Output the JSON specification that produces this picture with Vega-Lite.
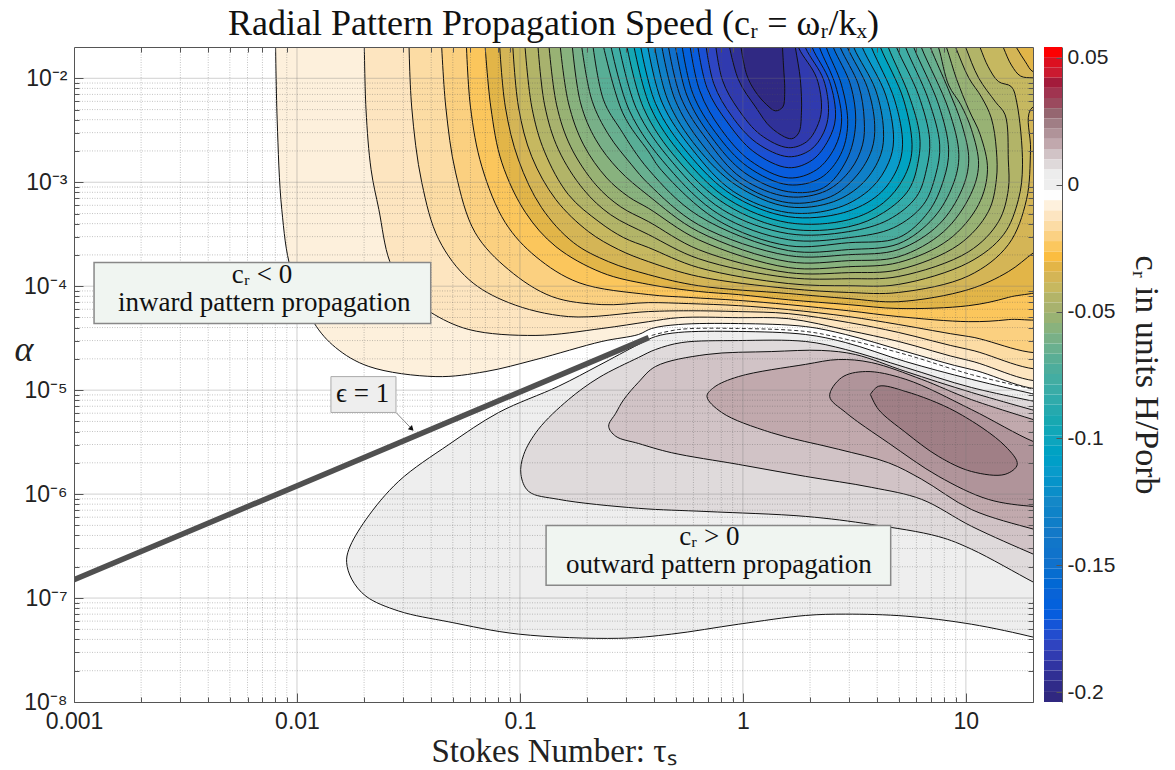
{"$schema":"https://vega.github.io/schema/vega-lite/v6.json","background":"white","padding":{"left":14,"top":5,"right":12,"bottom":0},"spacing":10,
"config":{"view":{"stroke":null}},
"datasets":{"contours":[
{"c":-0.0084,"t":0.008,"a":0.0292},{"c":-0.0084,"t":0.00815,"a":0.00398},{"c":-0.0084,"t":0.00855,"a":5.45e-4},{"c":-0.0084,"t":0.0094,"a":1.44e-4},{"c":-0.0084,"t":0.0119,"a":4.47e-5},{"c":-0.0084,"t":0.0149,"a":2.57e-5},{"c":-0.0084,"t":0.021,"a":1.69e-5},{"c":-0.0084,"t":0.042,"a":1.35e-5},{"c":-0.0084,"t":0.0703,"a":1.51e-5},{"c":-0.0084,"t":0.118,"a":1.97e-5},{"c":-0.0084,"t":0.233,"a":2.94e-5},{"c":-0.0084,"t":0.34,"a":3.43e-5},{"c":-0.0084,"t":0.39,"a":3.92e-5},{"c":-0.0084,"t":0.515,"a":4.28e-5},{"c":-0.0084,"t":0.955,"a":4.37e-5},{"c":-0.0084,"t":1.91,"a":4.09e-5},{"c":-0.0084,"t":2.89,"a":3.43e-5},{"c":-0.0084,"t":5.38,"a":2.35e-5},{"c":-0.0084,"t":10.6,"a":1.58e-5},{"c":-0.0084,"t":26,"a":1.16e-5},{"c":-0.0084,"t":26,"a":0.0292},
{"c":-0.0123,"t":0.02,"a":0.0292},{"c":-0.0123,"t":0.0204,"a":0.005},{"c":-0.0123,"t":0.0215,"a":0.00132},{"c":-0.0123,"t":0.0233,"a":5.45e-4},{"c":-0.0123,"t":0.0261,"a":1.72e-4},{"c":-0.0123,"t":0.0317,"a":8.3e-5},{"c":-0.0123,"t":0.0398,"a":5.6e-5},{"c":-0.0123,"t":0.059,"a":3.83e-5},{"c":-0.0123,"t":0.118,"a":3.36e-5},{"c":-0.0123,"t":0.233,"a":3.92e-5},{"c":-0.0123,"t":0.378,"a":4.56e-5},{"c":-0.0123,"t":0.515,"a":4.98e-5},{"c":-0.0123,"t":0.955,"a":4.98e-5},{"c":-0.0123,"t":1.6,"a":4.87e-5},{"c":-0.0123,"t":2.98,"a":3.75e-5},{"c":-0.0123,"t":4.99,"a":2.94e-5},{"c":-0.0123,"t":10.3,"a":1.93e-5},{"c":-0.0123,"t":26,"a":1.38e-5},{"c":-0.0123,"t":26,"a":0.0292},
{"c":-0.0164,"t":0.0317,"a":0.0292},{"c":-0.0164,"t":0.0327,"a":0.0053},{"c":-0.0164,"t":0.0363,"a":9.9e-4},{"c":-0.0164,"t":0.0433,"a":2.8e-4},{"c":-0.0164,"t":0.059,"a":1.16e-4},{"c":-0.0164,"t":0.089,"a":6.95e-5},{"c":-0.0164,"t":0.165,"a":5.1e-5},{"c":-0.0164,"t":0.378,"a":5.7e-5},{"c":-0.0164,"t":0.571,"a":5.8e-5},{"c":-0.0164,"t":0.955,"a":5.7e-5},{"c":-0.0164,"t":1.6,"a":5.45e-5},{"c":-0.0164,"t":2.98,"a":4.47e-5},{"c":-0.0164,"t":4.99,"a":3.59e-5},{"c":-0.0164,"t":10.3,"a":2.46e-5},{"c":-0.0164,"t":26,"a":1.8e-5},{"c":-0.0164,"t":26,"a":0.0292},
{"c":-0.0205,"t":0.0442,"a":0.0292},{"c":-0.0205,"t":0.0465,"a":0.0053},{"c":-0.0205,"t":0.0515,"a":0.00123},{"c":-0.0205,"t":0.063,"a":3.27e-4},{"c":-0.0205,"t":0.089,"a":1.44e-4},{"c":-0.0205,"t":0.139,"a":7.95e-5},{"c":-0.0205,"t":0.233,"a":6.65e-5},{"c":-0.0205,"t":0.378,"a":6.95e-5},{"c":-0.0205,"t":0.571,"a":6.8e-5},{"c":-0.0205,"t":0.955,"a":6.5e-5},{"c":-0.0205,"t":1.6,"a":5.95e-5},{"c":-0.0205,"t":2.98,"a":5.1e-5},{"c":-0.0205,"t":4.99,"a":4.28e-5},{"c":-0.0205,"t":10.3,"a":3.28e-5},{"c":-0.0205,"t":26,"a":2.63e-5},{"c":-0.0205,"t":26,"a":0.0292},
{"c":-0.0245,"t":0.0572,"a":0.0292},{"c":-0.0245,"t":0.06,"a":0.0053},{"c":-0.0245,"t":0.0675,"a":0.00141},{"c":-0.0245,"t":0.086,"a":4.08e-4},{"c":-0.0245,"t":0.118,"a":1.92e-4},{"c":-0.0245,"t":0.184,"a":1.08e-4},{"c":-0.0245,"t":0.378,"a":8.3e-5},{"c":-0.0245,"t":0.571,"a":7.8e-5},{"c":-0.0245,"t":0.955,"a":7.3e-5},{"c":-0.0245,"t":1.6,"a":6.65e-5},{"c":-0.0245,"t":2.98,"a":5.8e-5},{"c":-0.0245,"t":4.99,"a":5.1e-5},{"c":-0.0245,"t":10.3,"a":4.56e-5},{"c":-0.0245,"t":15.5,"a":4.77e-5},{"c":-0.0245,"t":26,"a":5.7e-5},{"c":-0.0245,"t":26,"a":0.0292},
{"c":-0.0325,"t":0.069,"a":0.0292},{"c":-0.0325,"t":0.074,"a":0.0053},{"c":-0.0325,"t":0.083,"a":0.00154},{"c":-0.0325,"t":0.106,"a":5.1e-4},{"c":-0.0325,"t":0.145,"a":2.4e-4},{"c":-0.0325,"t":0.233,"a":1.35e-4},{"c":-0.0325,"t":0.378,"a":1.04e-4},{"c":-0.0325,"t":0.632,"a":8.9e-5},{"c":-0.0325,"t":0.955,"a":8.3e-5},{"c":-0.0325,"t":1.6,"a":7.4e-5},{"c":-0.0325,"t":2.98,"a":6.65e-5},{"c":-0.0325,"t":4.99,"a":6.1e-5},{"c":-0.0325,"t":10.3,"a":6.5e-5},{"c":-0.0325,"t":15.5,"a":7.8e-5},{"c":-0.0325,"t":26,"a":1.16e-4},{"c":-0.0325,"t":26,"a":0.0292},
{"c":-0.0365,"t":0.0803,"a":0.0292},{"c":-0.0365,"t":0.086,"a":0.0053},{"c":-0.0365,"t":0.0985,"a":0.00164},{"c":-0.0365,"t":0.125,"a":5.7e-4},{"c":-0.0365,"t":0.174,"a":2.62e-4},{"c":-0.0365,"t":0.25,"a":1.72e-4},{"c":-0.0365,"t":0.378,"a":1.29e-4},{"c":-0.0365,"t":0.632,"a":1.01e-4},{"c":-0.0365,"t":1.6,"a":8.5e-5},{"c":-0.0365,"t":2.98,"a":7.6e-5},{"c":-0.0365,"t":4.99,"a":7.1e-5},{"c":-0.0365,"t":10.3,"a":9.3e-5},{"c":-0.0365,"t":15.5,"a":1.38e-4},{"c":-0.0365,"t":20.1,"a":2.1e-4},{"c":-0.0365,"t":26,"a":3.13e-4},{"c":-0.0365,"t":26,"a":0.0115},{"c":-0.0365,"t":20.1,"a":0.0115},{"c":-0.0365,"t":18.5,"a":0.0144},{"c":-0.0365,"t":16.9,"a":0.0196},{"c":-0.0365,"t":15.2,"a":0.0292},
{"c":-0.0406,"t":0.092,"a":0.0292},{"c":-0.0406,"t":0.0985,"a":0.0053},{"c":-0.0406,"t":0.113,"a":0.00176},{"c":-0.0406,"t":0.145,"a":6.8e-4},{"c":-0.0406,"t":0.203,"a":3.35e-4},{"c":-0.0406,"t":0.277,"a":2.25e-4},{"c":-0.0406,"t":0.378,"a":1.72e-4},{"c":-0.0406,"t":0.632,"a":1.24e-4},{"c":-0.0406,"t":1.6,"a":9.5e-5},{"c":-0.0406,"t":2.98,"a":8.7e-5},{"c":-0.0406,"t":4.99,"a":8.7e-5},{"c":-0.0406,"t":10.3,"a":1.26e-4},{"c":-0.0406,"t":15.5,"a":2.51e-4},{"c":-0.0406,"t":18.7,"a":6.8e-4},{"c":-0.0406,"t":19.5,"a":0.00205},{"c":-0.0406,"t":19.5,"a":0.005},{"c":-0.0406,"t":26,"a":0.0069},{"c":-0.0406,"t":26,"a":0.0101},{"c":-0.0406,"t":20.1,"a":0.0101},{"c":-0.0406,"t":17.6,"a":0.0105},{"c":-0.0406,"t":16,"a":0.0134},{"c":-0.0406,"t":14.75,"a":0.0196},{"c":-0.0406,"t":13.7,"a":0.0292},
{"c":-0.0446,"t":0.104,"a":0.0292},{"c":-0.0446,"t":0.113,"a":0.0053},{"c":-0.0446,"t":0.129,"a":0.00196},{"c":-0.0446,"t":0.165,"a":7.6e-4},{"c":-0.0446,"t":0.226,"a":4.17e-4},{"c":-0.0446,"t":0.292,"a":2.93e-4},{"c":-0.0446,"t":0.378,"a":2.35e-4},{"c":-0.0446,"t":0.632,"a":1.51e-4},{"c":-0.0446,"t":1.6,"a":1.06e-4},{"c":-0.0446,"t":2.98,"a":1.01e-4},{"c":-0.0446,"t":4.99,"a":1.04e-4},{"c":-0.0446,"t":10.3,"a":1.69e-4},{"c":-0.0446,"t":14.75,"a":3.13e-4},{"c":-0.0446,"t":17.2,"a":6.8e-4},{"c":-0.0446,"t":17.95,"a":0.00147},{"c":-0.0446,"t":16.9,"a":0.0059},{"c":-0.0446,"t":16,"a":0.0083},{"c":-0.0446,"t":14,"a":0.0093},{"c":-0.0446,"t":12.6,"a":0.0129},{"c":-0.0446,"t":11.6,"a":0.0196},{"c":-0.0446,"t":10.8,"a":0.0292},
{"c":-0.0487,"t":0.119,"a":0.0292},{"c":-0.0487,"t":0.129,"a":0.00555},{"c":-0.0487,"t":0.149,"a":0.00205},{"c":-0.0487,"t":0.193,"a":8.5e-4},{"c":-0.0487,"t":0.255,"a":4.87e-4},{"c":-0.0487,"t":0.378,"a":3.13e-4},{"c":-0.0487,"t":0.632,"a":1.84e-4},{"c":-0.0487,"t":1.6,"a":1.21e-4},{"c":-0.0487,"t":2.98,"a":1.18e-4},{"c":-0.0487,"t":4.99,"a":1.24e-4},{"c":-0.0487,"t":10.3,"a":2.15e-4},{"c":-0.0487,"t":14,"a":4.17e-4},{"c":-0.0487,"t":15.5,"a":8.5e-4},{"c":-0.0487,"t":15.5,"a":0.00164},{"c":-0.0487,"t":15,"a":0.00445},{"c":-0.0487,"t":13.6,"a":0.0059},{"c":-0.0487,"t":11.4,"a":0.0101},{"c":-0.0487,"t":10,"a":0.0196},{"c":-0.0487,"t":9.3,"a":0.0292},
{"c":-0.0529,"t":0.133,"a":0.0292},{"c":-0.0529,"t":0.146,"a":0.00555},{"c":-0.0529,"t":0.169,"a":0.00219},{"c":-0.0529,"t":0.219,"a":9.45e-4},{"c":-0.0529,"t":0.283,"a":5.8e-4},{"c":-0.0529,"t":0.378,"a":4.17e-4},{"c":-0.0529,"t":0.632,"a":2.25e-4},{"c":-0.0529,"t":1.6,"a":1.35e-4},{"c":-0.0529,"t":2.98,"a":1.35e-4},{"c":-0.0529,"t":4.99,"a":1.44e-4},{"c":-0.0529,"t":9.3,"a":2.51e-4},{"c":-0.0529,"t":12.6,"a":5.2e-4},{"c":-0.0529,"t":13.7,"a":0.00106},{"c":-0.0529,"t":13.7,"a":0.00205},{"c":-0.0529,"t":13,"a":0.00415},{"c":-0.0529,"t":11.75,"a":0.0066},{"c":-0.0529,"t":10.3,"a":0.0101},{"c":-0.0529,"t":9.02,"a":0.0196},{"c":-0.0529,"t":8.37,"a":0.0292},
{"c":-0.0568,"t":0.149,"a":0.0292},{"c":-0.0568,"t":0.165,"a":0.0058},{"c":-0.0568,"t":0.193,"a":0.00229},{"c":-0.0568,"t":0.245,"a":0.0011},{"c":-0.0568,"t":0.307,"a":7.25e-4},{"c":-0.0568,"t":0.378,"a":5.6e-4},{"c":-0.0568,"t":0.632,"a":2.8e-4},{"c":-0.0568,"t":1.6,"a":1.51e-4},{"c":-0.0568,"t":2.98,"a":1.54e-4},{"c":-0.0568,"t":4.99,"a":1.69e-4},{"c":-0.0568,"t":8.37,"a":2.8e-4},{"c":-0.0568,"t":11.4,"a":6.1e-4},{"c":-0.0568,"t":12.5,"a":0.00132},{"c":-0.0568,"t":11.6,"a":0.00286},{"c":-0.0568,"t":10.3,"a":0.005},{"c":-0.0568,"t":9.1,"a":0.0097},{"c":-0.0568,"t":8.2,"a":0.0196},{"c":-0.0568,"t":7.63,"a":0.0292},
{"c":-0.0609,"t":0.169,"a":0.0292},{"c":-0.0609,"t":0.187,"a":0.0058},{"c":-0.0609,"t":0.219,"a":0.00256},{"c":-0.0609,"t":0.277,"a":0.00132},{"c":-0.0609,"t":0.378,"a":7.4e-4},{"c":-0.0609,"t":0.632,"a":3.35e-4},{"c":-0.0609,"t":1.6,"a":1.72e-4},{"c":-0.0609,"t":2.98,"a":1.76e-4},{"c":-0.0609,"t":4.99,"a":1.92e-4},{"c":-0.0609,"t":7.95,"a":3.35e-4},{"c":-0.0609,"t":10.5,"a":7.6e-4},{"c":-0.0609,"t":11.4,"a":0.00147},{"c":-0.0609,"t":10.6,"a":0.0032},{"c":-0.0609,"t":9.5,"a":0.00555},{"c":-0.0609,"t":8.37,"a":0.0086},{"c":-0.0609,"t":7.55,"a":0.0196},{"c":-0.0609,"t":7.03,"a":0.0292},
{"c":-0.065,"t":0.185,"a":0.0292},{"c":-0.065,"t":0.21,"a":0.0062},{"c":-0.065,"t":0.25,"a":0.00286},{"c":-0.065,"t":0.317,"a":0.00147},{"c":-0.065,"t":0.378,"a":9.6e-4},{"c":-0.065,"t":0.632,"a":3.9e-4},{"c":-0.065,"t":1.6,"a":1.97e-4},{"c":-0.065,"t":2.98,"a":2.01e-4},{"c":-0.065,"t":4.99,"a":2.25e-4},{"c":-0.065,"t":7.55,"a":3.9e-4},{"c":-0.065,"t":9.6,"a":8.5e-4},{"c":-0.065,"t":10.3,"a":0.00164},{"c":-0.065,"t":9.6,"a":0.00357},{"c":-0.065,"t":8.37,"a":0.0077},{"c":-0.065,"t":6.95,"a":0.0196},{"c":-0.065,"t":6.52,"a":0.0292},
{"c":-0.069,"t":0.208,"a":0.0292},{"c":-0.069,"t":0.237,"a":0.0062},{"c":-0.069,"t":0.283,"a":0.0032},{"c":-0.069,"t":0.378,"a":0.00132},{"c":-0.069,"t":0.632,"a":4.76e-4},{"c":-0.069,"t":1.6,"a":2.2e-4},{"c":-0.069,"t":2.98,"a":2.25e-4},{"c":-0.069,"t":4.99,"a":2.56e-4},{"c":-0.069,"t":7.17,"a":4.55e-4},{"c":-0.069,"t":8.75,"a":9.45e-4},{"c":-0.069,"t":9.3,"a":0.00184},{"c":-0.069,"t":8.37,"a":0.005},{"c":-0.069,"t":6.33,"a":0.0196},{"c":-0.069,"t":5.95,"a":0.0292},
{"c":-0.0737,"t":0.228,"a":0.0292},{"c":-0.0737,"t":0.289,"a":0.00465},{"c":-0.0737,"t":0.378,"a":0.00196},{"c":-0.0737,"t":0.433,"a":0.00129},{"c":-0.0737,"t":0.763,"a":4.36e-4},{"c":-0.0737,"t":1.6,"a":2.45e-4},{"c":-0.0737,"t":2.98,"a":2.62e-4},{"c":-0.0737,"t":4.99,"a":2.93e-4},{"c":-0.0737,"t":6.8,"a":5.2e-4},{"c":-0.0737,"t":7.95,"a":0.00106},{"c":-0.0737,"t":8.37,"a":0.00205},{"c":-0.0737,"t":7.55,"a":0.00555},{"c":-0.0737,"t":5.85,"a":0.0196},{"c":-0.0737,"t":5.5,"a":0.0292},
{"c":-0.0785,"t":0.247,"a":0.0292},{"c":-0.0785,"t":0.31,"a":0.00486},{"c":-0.0785,"t":0.46,"a":0.00141},{"c":-0.0785,"t":0.786,"a":4.87e-4},{"c":-0.0785,"t":1.6,"a":2.8e-4},{"c":-0.0785,"t":2.98,"a":2.93e-4},{"c":-0.0785,"t":4.74,"a":3.65e-4},{"c":-0.0785,"t":6.45,"a":6.1e-4},{"c":-0.0785,"t":7.32,"a":0.00118},{"c":-0.0785,"t":7.63,"a":0.00229},{"c":-0.0785,"t":6.8,"a":0.0062},{"c":-0.0785,"t":5.38,"a":0.0196},{"c":-0.0785,"t":5.05,"a":0.0292},
{"c":-0.0832,"t":0.269,"a":0.0292},{"c":-0.0832,"t":0.333,"a":0.0051},{"c":-0.0832,"t":0.485,"a":0.00154},{"c":-0.0832,"t":0.81,"a":5.45e-4},{"c":-0.0832,"t":1.6,"a":3.2e-4},{"c":-0.0832,"t":2.98,"a":3.35e-4},{"c":-0.0832,"t":4.5,"a":4.36e-4},{"c":-0.0832,"t":6,"a":7.25e-4},{"c":-0.0832,"t":6.65,"a":0.00132},{"c":-0.0832,"t":6.88,"a":0.00256},{"c":-0.0832,"t":6.13,"a":0.0069},{"c":-0.0832,"t":4.9,"a":0.0196},{"c":-0.0832,"t":4.6,"a":0.0292},
{"c":-0.094,"t":0.292,"a":0.0292},{"c":-0.094,"t":0.358,"a":0.0052},{"c":-0.094,"t":0.51,"a":0.00164},{"c":-0.094,"t":0.84,"a":6.1e-4},{"c":-0.094,"t":1.6,"a":3.57e-4},{"c":-0.094,"t":2.98,"a":3.73e-4},{"c":-0.094,"t":4.27,"a":5.1e-4},{"c":-0.094,"t":5.55,"a":8.5e-4},{"c":-0.094,"t":6.13,"a":0.00164},{"c":-0.094,"t":6.2,"a":0.00286},{"c":-0.094,"t":5.55,"a":0.0069},{"c":-0.094,"t":4.5,"a":0.0196},{"c":-0.094,"t":4.23,"a":0.0292},
{"c":-0.104,"t":0.314,"a":0.0292},{"c":-0.104,"t":0.383,"a":0.0054},{"c":-0.104,"t":0.535,"a":0.0018},{"c":-0.104,"t":0.865,"a":6.8e-4},{"c":-0.104,"t":1.6,"a":4.08e-4},{"c":-0.104,"t":2.98,"a":4.36e-4},{"c":-0.104,"t":4.27,"a":6.35e-4},{"c":-0.104,"t":5.26,"a":0.0011},{"c":-0.104,"t":5.73,"a":0.00205},{"c":-0.104,"t":5.26,"a":0.0062},{"c":-0.104,"t":4.15,"a":0.0196},{"c":-0.104,"t":3.9,"a":0.0292},
{"c":-0.112,"t":0.337,"a":0.0292},{"c":-0.112,"t":0.406,"a":0.0057},{"c":-0.112,"t":0.565,"a":0.00192},{"c":-0.112,"t":0.89,"a":7.6e-4},{"c":-0.112,"t":1.6,"a":4.66e-4},{"c":-0.112,"t":2.83,"a":5.1e-4},{"c":-0.112,"t":4.06,"a":7.6e-4},{"c":-0.112,"t":4.9,"a":0.00132},{"c":-0.112,"t":5.2,"a":0.00229},{"c":-0.112,"t":4.79,"a":0.0062},{"c":-0.112,"t":3.78,"a":0.0196},{"c":-0.112,"t":3.55,"a":0.0292},
{"c":-0.122,"t":0.363,"a":0.0292},{"c":-0.122,"t":0.433,"a":0.0059},{"c":-0.122,"t":0.595,"a":0.00205},{"c":-0.122,"t":0.91,"a":8.1e-4},{"c":-0.122,"t":1.6,"a":5.1e-4},{"c":-0.122,"t":2.68,"a":5.7e-4},{"c":-0.122,"t":3.78,"a":8.85e-4},{"c":-0.122,"t":4.5,"a":0.00154},{"c":-0.122,"t":4.74,"a":0.00256},{"c":-0.122,"t":4.37,"a":0.0069},{"c":-0.122,"t":3.44,"a":0.0196},{"c":-0.122,"t":3.23,"a":0.0292},
{"c":-0.132,"t":0.39,"a":0.0292},{"c":-0.132,"t":0.46,"a":0.0062},{"c":-0.132,"t":0.62,"a":0.00219},{"c":-0.132,"t":0.94,"a":9.25e-4},{"c":-0.132,"t":1.6,"a":5.8e-4},{"c":-0.132,"t":2.55,"a":6.5e-4},{"c":-0.132,"t":3.48,"a":0.001},{"c":-0.132,"t":4.15,"a":0.00184},{"c":-0.132,"t":4.27,"a":0.0032},{"c":-0.132,"t":3.94,"a":0.0077},{"c":-0.132,"t":3.15,"a":0.0196},{"c":-0.132,"t":2.98,"a":0.0292},
{"c":-0.142,"t":0.42,"a":0.0292},{"c":-0.142,"t":0.495,"a":0.0063},{"c":-0.142,"t":0.654,"a":0.00234},{"c":-0.142,"t":0.965,"a":9.9e-4},{"c":-0.142,"t":1.6,"a":6.35e-4},{"c":-0.142,"t":2.47,"a":7.25e-4},{"c":-0.142,"t":3.23,"a":0.00115},{"c":-0.142,"t":3.78,"a":0.00205},{"c":-0.142,"t":3.9,"a":0.00357},{"c":-0.142,"t":3.62,"a":0.0081},{"c":-0.142,"t":2.95,"a":0.0196},{"c":-0.142,"t":2.77,"a":0.0292},
{"c":-0.15,"t":0.45,"a":0.0292},{"c":-0.15,"t":0.526,"a":0.0066},{"c":-0.15,"t":0.69,"a":0.00256},{"c":-0.15,"t":0.985,"a":0.0011},{"c":-0.15,"t":1.6,"a":7.25e-4},{"c":-0.15,"t":2.37,"a":8.3e-4},{"c":-0.15,"t":3.04,"a":0.00132},{"c":-0.15,"t":3.44,"a":0.00229},{"c":-0.15,"t":3.5,"a":0.00398},{"c":-0.15,"t":3.3,"a":0.0086},{"c":-0.15,"t":2.74,"a":0.0196},{"c":-0.15,"t":2.58,"a":0.0292},
{"c":-0.158,"t":0.485,"a":0.0292},{"c":-0.158,"t":0.56,"a":0.0069},{"c":-0.158,"t":0.72,"a":0.00274},{"c":-0.158,"t":1.02,"a":0.00123},{"c":-0.158,"t":1.6,"a":8.1e-4},{"c":-0.158,"t":2.3,"a":8.85e-4},{"c":-0.158,"t":2.92,"a":0.00164},{"c":-0.158,"t":3.2,"a":0.00357},{"c":-0.158,"t":3.04,"a":0.0086},{"c":-0.158,"t":2.55,"a":0.0196},{"c":-0.158,"t":2.4,"a":0.0292},
{"c":-0.165,"t":0.52,"a":0.0292},{"c":-0.165,"t":0.595,"a":0.0072},{"c":-0.165,"t":0.755,"a":0.00299},{"c":-0.165,"t":1.05,"a":0.00141},{"c":-0.165,"t":1.6,"a":9.45e-4},{"c":-0.165,"t":2.23,"a":0.0011},{"c":-0.165,"t":2.74,"a":0.00184},{"c":-0.165,"t":2.95,"a":0.00357},{"c":-0.165,"t":2.77,"a":0.0086},{"c":-0.165,"t":2.37,"a":0.0196},{"c":-0.165,"t":2.25,"a":0.0292},
{"c":-0.17,"t":0.565,"a":0.0292},{"c":-0.17,"t":0.64,"a":0.0076},{"c":-0.17,"t":0.795,"a":0.00327},{"c":-0.17,"t":1.08,"a":0.00161},{"c":-0.17,"t":1.6,"a":0.0011},{"c":-0.17,"t":2.14,"a":0.00132},{"c":-0.17,"t":2.58,"a":0.00215},{"c":-0.17,"t":2.77,"a":0.0038},{"c":-0.17,"t":2.6,"a":0.0086},{"c":-0.17,"t":2.21,"a":0.0196},{"c":-0.17,"t":2.1,"a":0.0292},
{"c":-0.176,"t":0.612,"a":0.0292},{"c":-0.176,"t":0.69,"a":0.0081},{"c":-0.176,"t":0.85,"a":0.0038},{"c":-0.176,"t":1.12,"a":0.00196},{"c":-0.176,"t":1.6,"a":0.00138},{"c":-0.176,"t":2.05,"a":0.00164},{"c":-0.176,"t":2.42,"a":0.00256},{"c":-0.176,"t":2.6,"a":0.00415},{"c":-0.176,"t":2.45,"a":0.0093},{"c":-0.176,"t":2.05,"a":0.0196},{"c":-0.176,"t":1.95,"a":0.0292},
{"c":-0.181,"t":0.668,"a":0.0292},{"c":-0.181,"t":0.74,"a":0.0089},{"c":-0.181,"t":0.89,"a":0.00435},{"c":-0.181,"t":1.15,"a":0.0024},{"c":-0.181,"t":1.6,"a":0.00176},{"c":-0.181,"t":2.01,"a":0.00205},{"c":-0.181,"t":2.3,"a":0.00299},{"c":-0.181,"t":2.42,"a":0.0047},{"c":-0.181,"t":2.3,"a":0.0097},{"c":-0.181,"t":1.91,"a":0.0196},{"c":-0.181,"t":1.81,"a":0.0292},
{"c":-0.186,"t":0.74,"a":0.0292},{"c":-0.186,"t":0.81,"a":0.00955},{"c":-0.186,"t":0.955,"a":0.005},{"c":-0.186,"t":1.2,"a":0.00286},{"c":-0.186,"t":1.6,"a":0.00215},{"c":-0.186,"t":1.93,"a":0.00245},{"c":-0.186,"t":2.14,"a":0.00334},{"c":-0.186,"t":2.25,"a":0.005},{"c":-0.186,"t":2.14,"a":0.0101},{"c":-0.186,"t":1.78,"a":0.0196},{"c":-0.186,"t":1.69,"a":0.0292},
{"c":-0.192,"t":0.84,"a":0.0292},{"c":-0.192,"t":0.955,"a":0.0097},{"c":-0.192,"t":1.14,"a":0.0053},{"c":-0.192,"t":1.34,"a":0.00334},{"c":-0.192,"t":1.65,"a":0.00262},{"c":-0.192,"t":1.78,"a":0.00299},{"c":-0.192,"t":1.83,"a":0.00465},{"c":-0.192,"t":1.81,"a":0.0097},{"c":-0.192,"t":1.72,"a":0.0196},{"c":-0.192,"t":1.67,"a":0.0292},
{"c":-0.2,"t":0.955,"a":0.0292},{"c":-0.2,"t":1.04,"a":0.0108},{"c":-0.2,"t":1.14,"a":0.0074},{"c":-0.2,"t":1.28,"a":0.00555},{"c":-0.2,"t":1.4,"a":0.00486},{"c":-0.2,"t":1.51,"a":0.0053},{"c":-0.2,"t":1.54,"a":0.0074},{"c":-0.2,"t":1.52,"a":0.0134},{"c":-0.2,"t":1.49,"a":0.0292},
{"c":0.002,"t":26,"a":8.1e-6},{"c":0.002,"t":10.6,"a":1.27e-5},{"c":0.002,"t":5.38,"a":1.88e-5},{"c":0.002,"t":2.89,"a":2.87e-5},{"c":0.002,"t":1.91,"a":3.43e-5},{"c":0.002,"t":0.955,"a":3.67e-5},{"c":0.002,"t":0.515,"a":3.59e-5},{"c":0.002,"t":0.406,"a":3.28e-5},{"c":0.002,"t":0.34,"a":2.75e-5},{"c":0.002,"t":0.226,"a":1.73e-5},{"c":0.002,"t":0.149,"a":1.09e-5},{"c":0.002,"t":0.0803,"a":6.1e-6},{"c":0.002,"t":0.048,"a":3e-6},{"c":0.002,"t":0.0286,"a":1.33e-6},{"c":0.002,"t":0.0204,"a":5.7e-7},{"c":0.002,"t":0.0171,"a":2.95e-7},{"c":0.002,"t":0.0167,"a":2.2e-7},{"c":0.002,"t":0.0176,"a":1.52e-7},{"c":0.002,"t":0.0204,"a":1.04e-7},{"c":0.002,"t":0.0286,"a":7.5e-8},{"c":0.002,"t":0.048,"a":5.9e-8},{"c":0.002,"t":0.0985,"a":4.5e-8},{"c":0.002,"t":0.277,"a":4.1e-8},{"c":0.002,"t":0.479,"a":4.5e-8},{"c":0.002,"t":0.955,"a":5.6e-8},{"c":0.002,"t":1.91,"a":6.8e-8},{"c":0.002,"t":2.89,"a":7e-8},{"c":0.002,"t":5.38,"a":6.7e-8},{"c":0.002,"t":10.6,"a":5.6e-8},{"c":0.002,"t":20.1,"a":4.2e-8},{"c":0.002,"t":26,"a":3.6e-8},
{"c":0.0079,"t":26,"a":7e-6},{"c":0.0079,"t":10.6,"a":1.06e-5},{"c":0.0079,"t":5.38,"a":1.65e-5},{"c":0.0079,"t":2.89,"a":2.46e-5},{"c":0.0079,"t":1.91,"a":2.94e-5},{"c":0.0079,"t":0.955,"a":3e-5},{"c":0.0079,"t":0.532,"a":2.87e-5},{"c":0.0079,"t":0.406,"a":2.46e-5},{"c":0.0079,"t":0.34,"a":2.06e-5},{"c":0.0079,"t":0.226,"a":1.32e-5},{"c":0.0079,"t":0.165,"a":8.1e-6},{"c":0.0079,"t":0.121,"a":4.2e-6},{"c":0.0079,"t":0.104,"a":2.4e-6},{"c":0.0079,"t":0.101,"a":1.55e-6},{"c":0.0079,"t":0.1095,"a":1.06e-6},{"c":0.0079,"t":0.149,"a":8.9e-7},{"c":0.0079,"t":0.34,"a":7.3e-7},{"c":0.0079,"t":0.683,"a":6.8e-7},{"c":0.0079,"t":1.91,"a":6.1e-7},{"c":0.0079,"t":3.78,"a":5.1e-7},{"c":0.0079,"t":7.55,"a":3.9e-7},{"c":0.0079,"t":10.6,"a":2.95e-7},{"c":0.0079,"t":20.1,"a":1.42e-7},{"c":0.0079,"t":26,"a":1.07e-7},
{"c":0.012,"t":26,"a":5.5e-6},{"c":0.012,"t":10.6,"a":9.5e-6},{"c":0.012,"t":5.38,"a":1.51e-5},{"c":0.012,"t":3.2,"a":2.2e-5},{"c":0.012,"t":2.25,"a":2.41e-5},{"c":0.012,"t":1.34,"a":2.35e-5},{"c":0.012,"t":0.683,"a":2.2e-5},{"c":0.012,"t":0.406,"a":1.69e-5},{"c":0.012,"t":0.34,"a":1.19e-5},{"c":0.012,"t":0.292,"a":8.1e-6},{"c":0.012,"t":0.269,"a":6e-6},{"c":0.012,"t":0.25,"a":4.5e-6},{"c":0.012,"t":0.269,"a":3.6e-6},{"c":0.012,"t":0.34,"a":3.07e-6},{"c":0.012,"t":0.479,"a":2.5e-6},{"c":0.012,"t":0.955,"a":1.93e-6},{"c":0.012,"t":1.91,"a":1.48e-6},{"c":0.012,"t":3.78,"a":1.16e-6},{"c":0.012,"t":6.33,"a":8.9e-7},{"c":0.012,"t":10.6,"a":4.9e-7},{"c":0.012,"t":20.1,"a":2.64e-7},{"c":0.012,"t":26,"a":2.1e-7},
{"c":0.016,"t":26,"a":4.4e-6},{"c":0.016,"t":10.6,"a":8.1e-6},{"c":0.016,"t":6.33,"a":1.27e-5},{"c":0.016,"t":3.78,"a":1.84e-5},{"c":0.016,"t":2.68,"a":1.97e-5},{"c":0.016,"t":1.91,"a":1.77e-5},{"c":0.016,"t":0.955,"a":1.35e-5},{"c":0.016,"t":0.74,"a":1.06e-5},{"c":0.016,"t":0.69,"a":8.7e-6},{"c":0.016,"t":0.803,"a":6.1e-6},{"c":0.016,"t":1.34,"a":3.9e-6},{"c":0.016,"t":2.68,"a":2.7e-6},{"c":0.016,"t":4.5,"a":2e-6},{"c":0.016,"t":6.33,"a":1.39e-6},{"c":0.016,"t":10.6,"a":7.1e-7},{"c":0.016,"t":20.1,"a":4.6e-7},{"c":0.016,"t":26,"a":4e-7},
{"c":0.02,"t":26,"a":2.7e-6},{"c":0.02,"t":20.1,"a":3.2e-6},{"c":0.02,"t":10.6,"a":6.5e-6},{"c":0.02,"t":5.38,"a":1.27e-5},{"c":0.02,"t":3.55,"a":1.51e-5},{"c":0.02,"t":2.77,"a":1.32e-5},{"c":0.02,"t":2.45,"a":8.7e-6},{"c":0.02,"t":2.89,"a":6.1e-6},{"c":0.02,"t":4.5,"a":3.1e-6},{"c":0.02,"t":7.55,"a":1.48e-6},{"c":0.02,"t":12.6,"a":8.9e-7},{"c":0.02,"t":20.1,"a":7.6e-7},{"c":0.02,"t":26,"a":7.5e-7},
{"c":0.024,"t":3.73,"a":9.1e-6},{"c":0.024,"t":4.06,"a":1.09e-5},{"c":0.024,"t":5.38,"a":9.7e-6},{"c":0.024,"t":9.02,"a":6.2e-6},{"c":0.024,"t":15,"a":2.9e-6},{"c":0.024,"t":17,"a":1.93e-6},{"c":0.024,"t":15,"a":1.55e-6},{"c":0.024,"t":10.6,"a":1.65e-6},{"c":0.024,"t":7.55,"a":2.3e-6},{"c":0.024,"t":5.38,"a":3.9e-6},{"c":0.024,"t":4.06,"a":6.5e-6},{"c":0.024,"t":3.73,"a":9.1e-6}
]},
"hconcat":[
{"width":959,"height":655,
"title":{"text":"Radial Pattern Propagation Speed (cᵣ = ωᵣ/kₓ)","font":"Liberation Serif","fontSize":36,"fontWeight":"normal","color":"#111","anchor":"middle","offset":4},
"resolve":{"axis":{"x":"independent","y":"independent"}},
"layer":[
{"data":{"name":"contours"},"mark":{"type":"line","interpolate":"catmull-rom","clip":true,"order":null,"stroke":"#111","strokeWidth":1},
"encoding":{
"x":{"field":"t","type":"quantitative","scale":{"type":"log","domain":[0.001,20],"nice":false},
"axis":{"orient":"bottom","title":"Stokes Number: τₛ","titleFont":"Liberation Serif","titleFontSize":33,"titleFontWeight":"normal","titleColor":"#222","titlePadding":-2,"grid":false,"zindex":1,"domainColor":"#555","tickColor":"#555","labelColor":"#222","labelFont":"Liberation Sans","labelFontSize":23,"labelPadding":17,"labelOverlap":false,"labelBound":false,"labelFlush":false,
"values":[0.001,0.002,0.003,0.004,0.005,0.006,0.007,0.008,0.009,0.01,0.02,0.03,0.04,0.05,0.06,0.07,0.08,0.09,0.1,0.2,0.3,0.4,0.5,0.6,0.7,0.8,0.9,1,2,3,4,5,6,7,8,9,10,20],
"labelExpr":"indexof([0.001,0.01,0.1,1,10],datum.value)>=0?(''+datum.value):''",
"tickSize":{"condition":{"test":"indexof([0.001,0.01,0.1,1,10],datum.value)>=0","value":-9},"value":-5}}},
"y":{"field":"a","type":"quantitative","scale":{"type":"log","domain":[1e-8,0.02],"nice":false},
"axis":{"orient":"left","title":"α","titleFont":"Liberation Serif","titleFontSize":36,"titleFontStyle":"italic","titleFontWeight":"normal","titleColor":"#222","titleAngle":0,"titlePadding":0,"titleY":321,"grid":false,"zindex":1,"domainColor":"#555","tickColor":"#555","labelColor":"#222","labelFont":"Liberation Sans","labelFontSize":23,"labelPadding":16,"labelOverlap":false,"labelBound":false,"labelFlush":false,
"values":[1e-8,2e-8,3e-8,4e-8,5e-8,6e-8,7e-8,8e-8,9e-8,1e-7,2e-7,3e-7,4e-7,5e-7,6e-7,7e-7,8e-7,9e-7,1e-6,2e-6,3e-6,4e-6,5e-6,6e-6,7e-6,8e-6,9e-6,1e-5,2e-5,3e-5,4e-5,5e-5,6e-5,7e-5,8e-5,9e-5,1e-4,2e-4,3e-4,4e-4,5e-4,6e-4,7e-4,8e-4,9e-4,1e-3,2e-3,3e-3,4e-3,5e-3,6e-3,7e-3,8e-3,9e-3,1e-2],
"labelExpr":"indexof([1e-8,1e-7,1e-6,1e-5,1e-4,1e-3,1e-2],datum.value)<0?'':'10'+['⁻⁸','⁻⁷','⁻⁶','⁻⁵','⁻⁴','⁻³','⁻²'][indexof([1e-8,1e-7,1e-6,1e-5,1e-4,1e-3,1e-2],datum.value)]",
"tickSize":{"condition":{"test":"indexof([1e-8,1e-7,1e-6,1e-5,1e-4,1e-3,1e-2],datum.value)>=0","value":-9},"value":-5}}},
"fill":{"field":"c","type":"quantitative","legend":null,"scale":{"clamp":true,"domain":[-0.2012,-0.1945,-0.188,-0.1815,-0.176,-0.168,-0.162,-0.15,-0.138,-0.125,-0.112,-0.1001,-0.092,-0.0832,-0.0737,-0.069,-0.065,-0.0609,-0.0568,-0.0529,-0.0487,-0.0446,-0.0406,-0.0365,-0.0325,-0.0286,-0.0245,-0.0205,-0.0164,-0.0123,-0.0084,-0.0043,-0.0002,0.0038,0.0079,0.012,0.016,0.02,0.024,0.0281,0.0322,0.0362,0.0403,0.0442,0.0484,0.0525],
"range":["#302880","#302e90","#3036a8","#2f44c0","#1a50d4","#0060e0","#0a62d8","#1070cc","#1478c8","#1488c8","#0a9ccb","#10a6bd","#1aa8b0","#34acaa","#4aad9e","#58ae96","#68b090","#78b088","#88b27e","#98b274","#a8b26e","#b2b468","#c6b860","#d4b556","#e2b548","#fbbc3e","#fbc65c","#fbd080","#fcdca4","#fde5c0","#fdf0dc","#ffffff","#eeeeee","#eeeeee","#dfdadb","#d1c3c6","#c1a9ad","#b0949a","#a07f86","#956670","#9b4a5e","#a03450","#a31a3a","#cb1a30","#dc1020","#ff0000"]}}}},
{"data":{"values":[{"v":0.002},{"v":0.003},{"v":0.004},{"v":0.005},{"v":0.006},{"v":0.007},{"v":0.008},{"v":0.009},{"v":0.02},{"v":0.03},{"v":0.04},{"v":0.05},{"v":0.06},{"v":0.07},{"v":0.08},{"v":0.09},{"v":0.2},{"v":0.3},{"v":0.4},{"v":0.5},{"v":0.6},{"v":0.7},{"v":0.8},{"v":0.9},{"v":2},{"v":3},{"v":4},{"v":5},{"v":6},{"v":7},{"v":8},{"v":9}]},"mark":{"type":"rule","stroke":"#555","strokeOpacity":0.35,"strokeWidth":1,"strokeDash":[1,1.5]},
"encoding":{"x":{"field":"v","type":"quantitative","axis":{"orient":"top","title":null,"labels":false,"grid":false,"domain":true,"domainColor":"#555","tickColor":"#555","zindex":1,"tickSize":-5,"values":[0.002,0.003,0.004,0.005,0.006,0.007,0.008,0.009,0.02,0.03,0.04,0.05,0.06,0.07,0.08,0.09,0.2,0.3,0.4,0.5,0.6,0.7,0.8,0.9,2,3,4,5,6,7,8,9]}}}},
{"data":{"values":[{"v":2e-8},{"v":3e-8},{"v":4e-8},{"v":5e-8},{"v":6e-8},{"v":7e-8},{"v":8e-8},{"v":9e-8},{"v":2e-7},{"v":3e-7},{"v":4e-7},{"v":5e-7},{"v":6e-7},{"v":7e-7},{"v":8e-7},{"v":9e-7},{"v":2e-6},{"v":3e-6},{"v":4e-6},{"v":5e-6},{"v":6e-6},{"v":7e-6},{"v":8e-6},{"v":9e-6},{"v":2e-5},{"v":3e-5},{"v":4e-5},{"v":5e-5},{"v":6e-5},{"v":7e-5},{"v":8e-5},{"v":9e-5},{"v":2e-4},{"v":3e-4},{"v":4e-4},{"v":5e-4},{"v":6e-4},{"v":7e-4},{"v":8e-4},{"v":9e-4},{"v":2e-3},{"v":3e-3},{"v":4e-3},{"v":5e-3},{"v":6e-3},{"v":7e-3},{"v":8e-3},{"v":9e-3}]},"mark":{"type":"rule","stroke":"#555","strokeOpacity":0.35,"strokeWidth":1,"strokeDash":[1,1.5]},
"encoding":{"y":{"field":"v","type":"quantitative","axis":{"orient":"right","title":null,"labels":false,"grid":false,"domain":true,"domainColor":"#555","tickColor":"#555","zindex":1,"tickSize":-5,"values":[2e-8,3e-8,4e-8,5e-8,6e-8,7e-8,8e-8,9e-8,2e-7,3e-7,4e-7,5e-7,6e-7,7e-7,8e-7,9e-7,2e-6,3e-6,4e-6,5e-6,6e-6,7e-6,8e-6,9e-6,2e-5,3e-5,4e-5,5e-5,6e-5,7e-5,8e-5,9e-5,2e-4,3e-4,4e-4,5e-4,6e-4,7e-4,8e-4,9e-4,2e-3,3e-3,4e-3,5e-3,6e-3,7e-3,8e-3,9e-3]}}}},
{"data":{"values":[{"v":0.01},{"v":0.1},{"v":1},{"v":10}]},"mark":{"type":"rule","stroke":"#777","strokeOpacity":0.35,"strokeWidth":1},"encoding":{"x":{"field":"v","type":"quantitative","axis":null}}},
{"data":{"values":[{"v":1e-7},{"v":1e-6},{"v":1e-5},{"v":1e-4},{"v":1e-3},{"v":1e-2}]},"mark":{"type":"rule","stroke":"#777","strokeOpacity":0.35,"strokeWidth":1},"encoding":{"y":{"field":"v","type":"quantitative","axis":null}}},
{"data":{"values":[{"t":0.39,"a":3.36e-5},{"t":0.515,"a":3.83e-5},{"t":0.955,"a":3.92e-5},{"t":1.91,"a":3.67e-5},{"t":2.68,"a":3.21e-5},{"t":5.38,"a":2.2e-5},{"t":10.6,"a":1.41e-5},{"t":20.1,"a":1.02e-5}]},"mark":{"type":"line","interpolate":"catmull-rom","clip":true,"stroke":"#333","strokeWidth":1,"strokeDash":[4,2.5]},"encoding":{"x":{"field":"t","type":"quantitative","axis":null},"y":{"field":"a","type":"quantitative","axis":null}}},
{"data":{"values":[{"t":0.001,"a":1.5e-7},{"t":0.378,"a":3.2e-5}]},"mark":{"type":"line","stroke":"#505050","strokeWidth":5.5,"clip":true},"encoding":{"x":{"field":"t","type":"quantitative","axis":null},"y":{"field":"a","type":"quantitative","axis":null}}},
{"data":{"values":[{"t":0.0278,"a":6.1e-6},{"t":0.0325,"a":4.3e-6}]},"mark":{"type":"line","stroke":"#888","strokeWidth":1},"encoding":{"x":{"field":"t","type":"quantitative","axis":null},"y":{"field":"a","type":"quantitative","axis":null}}},
{"data":{"values":[{"t":0.0325,"a":4.3e-6}]},"mark":{"type":"point","shape":"triangle","filled":true,"size":35,"angle":135,"color":"#111","opacity":1},"encoding":{"x":{"field":"t","type":"quantitative","axis":null},"y":{"field":"a","type":"quantitative","axis":null}}},
{"data":{"values":[{"t0":0.00123,"t1":0.0398,"a0":1.69e-4,"a1":4.37e-5},{"t0":0.131,"t1":4.6,"a0":5e-7,"a1":1.33e-7}]},"mark":{"type":"rect","fill":"#f0f5f1","stroke":"#888","strokeWidth":1.5},"encoding":{"x":{"field":"t0","type":"quantitative","axis":null},"x2":{"field":"t1"},"y":{"field":"a0","type":"quantitative","axis":null},"y2":{"field":"a1"}}},
{"data":{"values":[{"t0":0.0142,"t1":0.0278,"a0":1.35e-5,"a1":6.1e-6}]},"mark":{"type":"rect","fill":"#eeeeee","stroke":"#aaa","strokeWidth":1},"encoding":{"x":{"field":"t0","type":"quantitative","axis":null},"x2":{"field":"t1"},"y":{"field":"a0","type":"quantitative","axis":null},"y2":{"field":"a1"}}},
{"data":{"values":[{"t":0.00697,"a":1.29e-4,"s":"cᵣ < 0"},{"t":0.00713,"a":6.95e-5,"s":"inward pattern propagation"},{"t":0.707,"a":3.9e-7,"s":"cᵣ > 0"},{"t":0.78,"a":2.07e-7,"s":"outward pattern propagation"},{"t":0.0197,"a":9.1e-6,"s":"ϵ = 1"}]},"mark":{"type":"text","font":"Liberation Serif","fontSize":27,"color":"#111","align":"center","baseline":"middle"},"encoding":{"x":{"field":"t","type":"quantitative","axis":null},"y":{"field":"a","type":"quantitative","axis":null},"text":{"field":"s"}}}
]},
{"width":18,"height":655,
"data":{"values":[{"lo":0.0503,"hi":0.0543,"c":0.0523},{"lo":0.0463,"hi":0.0503,"c":0.0483},{"lo":0.0422,"hi":0.0463,"c":0.0442},{"lo":0.0382,"hi":0.0422,"c":0.0402},{"lo":0.0342,"hi":0.0382,"c":0.0362},{"lo":0.0302,"hi":0.0342,"c":0.0322},{"lo":0.0261,"hi":0.0302,"c":0.0281},{"lo":0.0221,"hi":0.0261,"c":0.0241},{"lo":0.0181,"hi":0.0221,"c":0.0201},{"lo":0.0141,"hi":0.0181,"c":0.0161},{"lo":0.01,"hi":0.0141,"c":0.012},{"lo":0.006,"hi":0.01,"c":0.008},{"lo":0.002,"hi":0.006,"c":0.004},{"lo":-0.0021,"hi":0.002,"c":-0.0001},{"lo":-0.0061,"hi":-0.0021,"c":-0.0041},{"lo":-0.0101,"hi":-0.0061,"c":-0.0082},{"lo":-0.0142,"hi":-0.0101,"c":-0.0122},{"lo":-0.0182,"hi":-0.0142,"c":-0.0162},{"lo":-0.0222,"hi":-0.0182,"c":-0.0202},{"lo":-0.0263,"hi":-0.0222,"c":-0.0243},{"lo":-0.0303,"hi":-0.0263,"c":-0.0283},{"lo":-0.0343,"hi":-0.0303,"c":-0.0323},{"lo":-0.0384,"hi":-0.0343,"c":-0.0364},{"lo":-0.0424,"hi":-0.0384,"c":-0.0404},{"lo":-0.0464,"hi":-0.0424,"c":-0.0444},{"lo":-0.0505,"hi":-0.0464,"c":-0.0485},{"lo":-0.0545,"hi":-0.0505,"c":-0.0525},{"lo":-0.0585,"hi":-0.0545,"c":-0.0565},{"lo":-0.0626,"hi":-0.0585,"c":-0.0606},{"lo":-0.0666,"hi":-0.0626,"c":-0.0646},{"lo":-0.0706,"hi":-0.0666,"c":-0.0686},{"lo":-0.0746,"hi":-0.0706,"c":-0.0726},{"lo":-0.0787,"hi":-0.0746,"c":-0.0767},{"lo":-0.0827,"hi":-0.0787,"c":-0.0807},{"lo":-0.0867,"hi":-0.0827,"c":-0.0847},{"lo":-0.0908,"hi":-0.0867,"c":-0.0888},{"lo":-0.0948,"hi":-0.0908,"c":-0.0928},{"lo":-0.0988,"hi":-0.0948,"c":-0.0968},{"lo":-0.1029,"hi":-0.0988,"c":-0.1009},{"lo":-0.1069,"hi":-0.1029,"c":-0.1049},{"lo":-0.1109,"hi":-0.1069,"c":-0.1089},{"lo":-0.1149,"hi":-0.1109,"c":-0.1129},{"lo":-0.119,"hi":-0.1149,"c":-0.117},{"lo":-0.123,"hi":-0.119,"c":-0.121},{"lo":-0.127,"hi":-0.123,"c":-0.125},{"lo":-0.1311,"hi":-0.127,"c":-0.1291},{"lo":-0.1351,"hi":-0.1311,"c":-0.1331},{"lo":-0.1391,"hi":-0.1351,"c":-0.1371},{"lo":-0.1432,"hi":-0.1391,"c":-0.1412},{"lo":-0.1472,"hi":-0.1432,"c":-0.1452},{"lo":-0.1512,"hi":-0.1472,"c":-0.1492},{"lo":-0.1552,"hi":-0.1512,"c":-0.1532},{"lo":-0.1593,"hi":-0.1552,"c":-0.1573},{"lo":-0.1633,"hi":-0.1593,"c":-0.1613},{"lo":-0.1673,"hi":-0.1633,"c":-0.1653},{"lo":-0.1714,"hi":-0.1673,"c":-0.1694},{"lo":-0.1754,"hi":-0.1714,"c":-0.1734},{"lo":-0.1794,"hi":-0.1754,"c":-0.1774},{"lo":-0.1835,"hi":-0.1794,"c":-0.1815},{"lo":-0.1875,"hi":-0.1835,"c":-0.1855},{"lo":-0.1915,"hi":-0.1875,"c":-0.1895},{"lo":-0.1955,"hi":-0.1915,"c":-0.1935},{"lo":-0.1996,"hi":-0.1955,"c":-0.1976},{"lo":-0.2039,"hi":-0.1996,"c":-0.2016}]},
"mark":{"type":"rect","stroke":null},
"encoding":{
"y":{"field":"lo","type":"quantitative","scale":{"domain":[-0.2039,0.0543],"nice":false,"zero":false},
"axis":{"orient":"right","values":[-0.2,-0.15,-0.1,-0.05,0,0.05],"labelExpr":"''+datum.value","grid":false,"zindex":1,"domainColor":"#555","tickColor":"#555","tickSize":-6,"labelColor":"#222","labelFont":"Liberation Sans","labelFontSize":21,"labelPadding":11,"labelOverlap":false,"labelBound":false,"title":"cᵣ in units H/Porb","titleFont":"Liberation Serif","titleFontSize":34,"titleFontWeight":"normal","titleColor":"#222","titleAngle":90,"titlePadding":14}},
"y2":{"field":"hi"},
"fill":{"field":"c","type":"quantitative","legend":null,"scale":{"clamp":true,"domain":[-0.2012,-0.1945,-0.188,-0.1815,-0.176,-0.168,-0.162,-0.15,-0.138,-0.125,-0.112,-0.1001,-0.092,-0.0832,-0.0737,-0.069,-0.065,-0.0609,-0.0568,-0.0529,-0.0487,-0.0446,-0.0406,-0.0365,-0.0325,-0.0286,-0.0245,-0.0205,-0.0164,-0.0123,-0.0084,-0.0043,-0.0002,0.0038,0.0079,0.012,0.016,0.02,0.024,0.0281,0.0322,0.0362,0.0403,0.0442,0.0484,0.0525],
"range":["#302880","#302e90","#3036a8","#2f44c0","#1a50d4","#0060e0","#0a62d8","#1070cc","#1478c8","#1488c8","#0a9ccb","#10a6bd","#1aa8b0","#34acaa","#4aad9e","#58ae96","#68b090","#78b088","#88b27e","#98b274","#a8b26e","#b2b468","#c6b860","#d4b556","#e2b548","#fbbc3e","#fbc65c","#fbd080","#fcdca4","#fde5c0","#fdf0dc","#ffffff","#eeeeee","#eeeeee","#dfdadb","#d1c3c6","#c1a9ad","#b0949a","#a07f86","#956670","#9b4a5e","#a03450","#a31a3a","#cb1a30","#dc1020","#ff0000"]}}}}
]}
